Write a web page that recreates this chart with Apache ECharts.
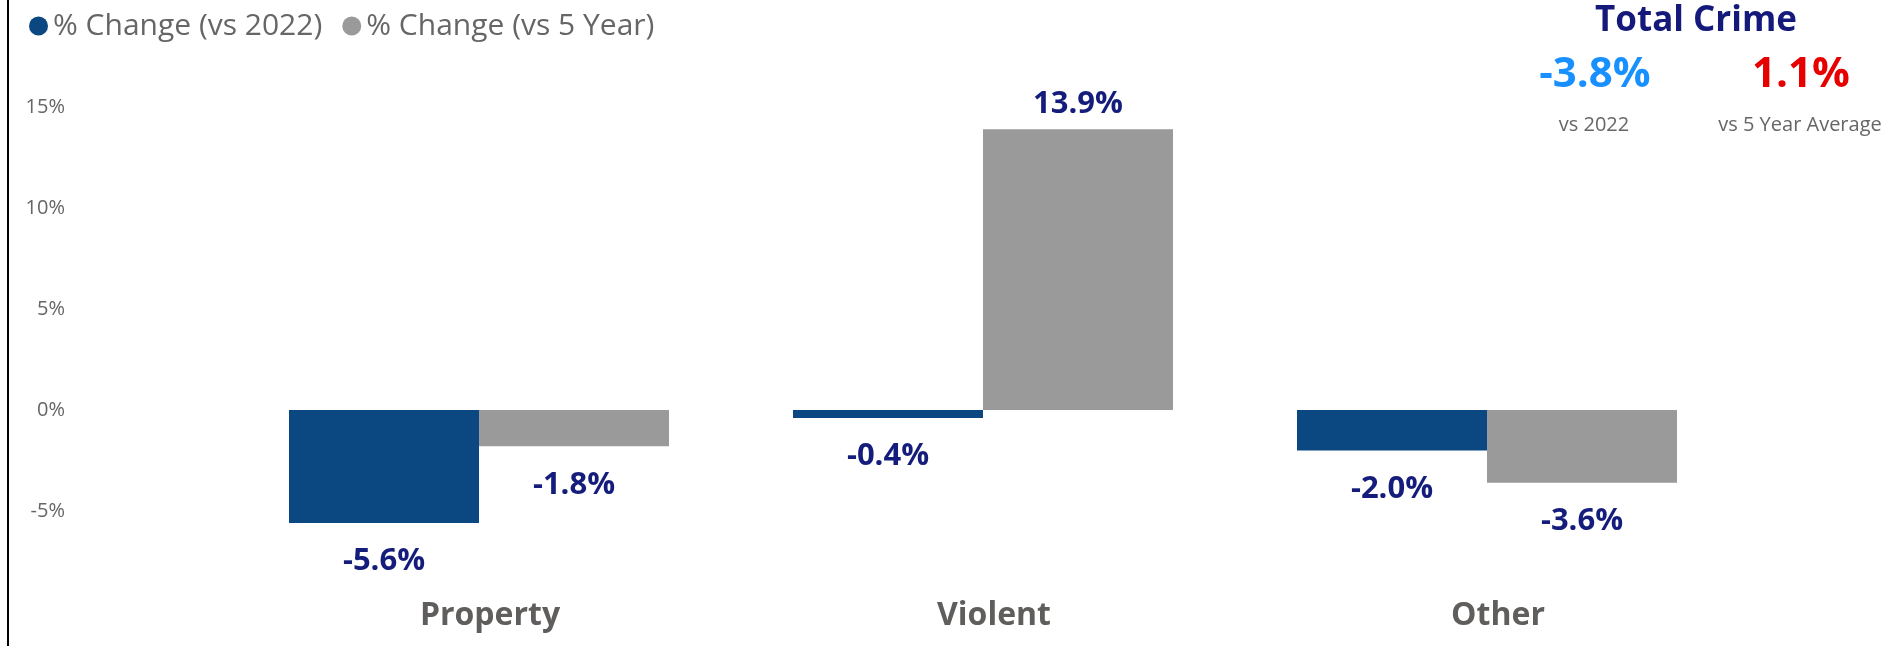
<!DOCTYPE html>
<html>
<head>
<meta charset="utf-8">
<script src="https://cdn.jsdelivr.net/npm/echarts@6/dist/echarts.min.js"></script>
<style>
  html, body { margin: 0; padding: 0; background: #fff; }
  #chart { width: 1886px; height: 646px; }
</style>
</head>
<body>
<div id="chart"></div>
<script>
const categories = ['Property', 'Violent', 'Other'];
const vs2022 = [-5.6, -0.4, -2.0];
const vs5Year = [-1.8, 13.9, -3.6];
const seriesNames = ['% Change (vs 2022)', '% Change (vs 5 Year)'];
const totalVs2022 = -3.8;
const totalVs5Year = 1.1;

const FONT = '"Open Sans", "Noto Sans", sans-serif';
const labelColor = '#141c7c';

function withLabels(values) {
  return values.map(v => ({
    value: v,
    label: {
      position: v < 0 ? 'bottom' : 'top',
      distance: v < 0 ? 23 : 10
    }
  }));
}

const barLabel = {
  show: true,
  color: labelColor,
  fontFamily: FONT,
  fontWeight: 'bold',
  fontSize: 31,
  formatter: p => p.value.toFixed(1) + '%'
};

const chart = echarts.init(document.getElementById('chart'));
chart.setOption({
  animation: false,
  color: ['#0b4780', '#9a9a9a'],
  legend: {
    left: 24,
    top: 6,
    icon: 'circle',
    itemWidth: 19,
    itemHeight: 19,
    itemGap: 20,
    textStyle: { color: '#666', fontSize: 30, fontFamily: FONT },
    data: seriesNames
  },
  grid: { left: 227, right: 147, top: 107, bottom: 34 },
  xAxis: {
    type: 'category',
    data: categories,
    axisLine: { show: false },
    axisTick: { show: false },
    axisLabel: {
      margin: -12,
      padding: [0, 0, 0, 22],
      color: '#605e5c',
      fontSize: 32,
      fontWeight: 'bold',
      fontFamily: FONT
    }
  },
  yAxis: {
    type: 'value',
    min: -10,
    max: 15,
    interval: 5,
    splitLine: { show: false },
    axisLabel: {
      margin: 162,
      color: '#666',
      fontSize: 20,
      fontFamily: FONT,
      formatter: v => v === -10 ? '' : v + '%'
    }
  },
  series: [
    {
      name: seriesNames[0],
      type: 'bar',
      barWidth: 190,
      barGap: '0%',
      label: barLabel,
      data: withLabels(vs2022)
    },
    {
      name: seriesNames[1],
      type: 'bar',
      barWidth: 190,
      barGap: '0%',
      label: barLabel,
      data: withLabels(vs5Year)
    }
  ],
  graphic: [
    { type: 'rect', left: 7, top: 0, shape: { width: 2, height: 646 }, style: { fill: '#000' } },
    { type: 'text', x: 1696, y: 21, style: { text: 'Total Crime', fill: '#14197a', font: 'bold 35px ' + FONT, textAlign: 'center', textVerticalAlign: 'middle' } },
    { type: 'text', x: 1595, y: 75, style: { text: totalVs2022.toFixed(1) + '%', fill: '#1890ff', font: 'bold 42px ' + FONT, textAlign: 'center', textVerticalAlign: 'middle' } },
    { type: 'text', x: 1801, y: 75, style: { text: totalVs5Year.toFixed(1) + '%', fill: '#e60000', font: 'bold 42px ' + FONT, textAlign: 'center', textVerticalAlign: 'middle' } },
    { type: 'text', x: 1594, y: 125, style: { text: 'vs 2022', fill: '#666', font: '20px ' + FONT, textAlign: 'center', textVerticalAlign: 'middle' } },
    { type: 'text', x: 1800, y: 125, style: { text: 'vs 5 Year Average', fill: '#666', font: '20px ' + FONT, textAlign: 'center', textVerticalAlign: 'middle' } }
  ]
});
</script>
</body>
</html>
